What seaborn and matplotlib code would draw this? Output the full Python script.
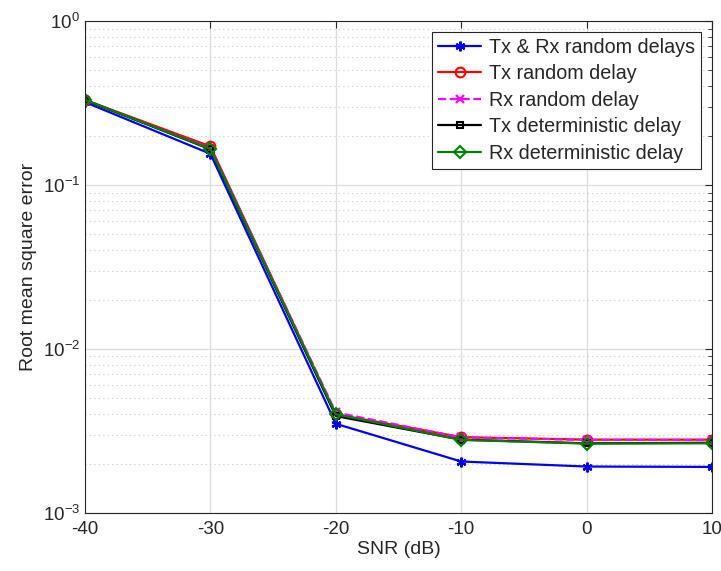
import numpy as np
import pandas as pd
import matplotlib
matplotlib.use("Agg")
import matplotlib.pyplot as plt
import seaborn as sns
from matplotlib.ticker import LogLocator, FixedLocator

sns.set_style("white")
plt.rcParams["font.family"] = ["Liberation Sans", "DejaVu Sans"]
plt.rcParams["mathtext.fontset"] = "custom"
plt.rcParams["mathtext.rm"] = "Liberation Sans"
plt.rcParams["mathtext.default"] = "regular"
plt.rcParams["axes.unicode_minus"] = False

# SNR sweep (dB)
snr_db = [-40, -30, -20, -10, 0, 10]

# Root mean square error per scenario
rmse_txrx_random = [0.320, 0.155, 0.0035, 0.00206, 0.00192, 0.00191]
rmse_tx_random = [0.330, 0.172, 0.0040, 0.00290, 0.00280, 0.00280]
rmse_rx_random = [0.328, 0.168, 0.0041, 0.00289, 0.00279, 0.00279]
rmse_tx_deterministic = [0.330, 0.165, 0.0039, 0.00280, 0.00266, 0.00268]
rmse_rx_deterministic = [0.331, 0.166, 0.0040, 0.00279, 0.00265, 0.00266]

series_labels = [
    "Tx & Rx random delays",
    "Tx random delay",
    "Rx random delay",
    "Tx deterministic delay",
    "Rx deterministic delay",
]

series_values = [
    rmse_txrx_random,
    rmse_tx_random,
    rmse_rx_random,
    rmse_tx_deterministic,
    rmse_rx_deterministic,
]

styles = [
    dict(color="#0000ff", marker=(6, 2, 0), linestyle="-", markersize=7, mew=1.6, mfc="#0000ff"),
    dict(color="#ff0000", marker="o", linestyle="-", markersize=7, mew=1.5, mfc="none"),
    dict(color="#ff00ff", marker="x", linestyle="--", markersize=6, mew=1.5, mfc="none"),
    dict(color="#000000", marker="s", linestyle="-", markersize=5, mew=1.5, mfc="none"),
    dict(color="#008000", marker="D", linestyle="-", markersize=6, mew=1.5, mfc="none"),
]

fig = plt.figure(figsize=(7.21, 5.71), dpi=100)
ax = fig.add_axes([0.1179, 0.1016, 0.8696, 0.8616])

for label, vals, st in zip(series_labels, series_values, styles):
    df = pd.DataFrame({"snr": snr_db, "rmse": vals})
    sns.lineplot(
        data=df, x="snr", y="rmse", ax=ax, label=label,
        color=st["color"], marker=st["marker"], linestyle=st["linestyle"],
        markersize=st["markersize"], markeredgewidth=st["mew"],
        markerfacecolor=st["mfc"], markeredgecolor=st["color"],
        linewidth=1.6, errorbar=None,
    )

ax.set_yscale("log")
ax.set_xlim(-40, 10)
ax.set_ylim(1e-3, 1e0)
ax.xaxis.set_major_locator(FixedLocator([-40, -30, -20, -10, 0, 10]))
ax.yaxis.set_major_locator(LogLocator(base=10, numticks=10))
ax.yaxis.set_minor_locator(LogLocator(base=10, subs=np.arange(2, 10), numticks=20))

ax.grid(True, which="major", color="#dcdcdc", linestyle="-", linewidth=0.9)
ax.grid(True, which="minor", axis="y", color="#c8c8c8", linestyle=(0, (1, 3)), linewidth=0.8)
ax.set_axisbelow(True)

for sp in ax.spines.values():
    sp.set_visible(True)
    sp.set_color("#262626")
    sp.set_linewidth(0.8)

ax.tick_params(axis="both", which="both", direction="in", top=True, right=True,
               colors="#262626", labelsize=13.5)
ax.tick_params(axis="both", which="major", length=5)
ax.tick_params(axis="y", which="minor", length=3)
ax.tick_params(axis="x", which="major", pad=6)

ax.set_xlabel("SNR (dB)", fontsize=14, labelpad=2)
ax.set_ylabel("Root mean square error", fontsize=14, labelpad=4)

leg = ax.legend(loc="upper right", fontsize=14.2, frameon=True, fancybox=False,
                edgecolor="#262626", framealpha=1, borderpad=0.3,
                labelspacing=0.38, handlelength=2.2, handletextpad=0.4,
                borderaxespad=0.55)
leg.get_frame().set_linewidth(0.8)

fig.savefig("out.png", dpi=100)
